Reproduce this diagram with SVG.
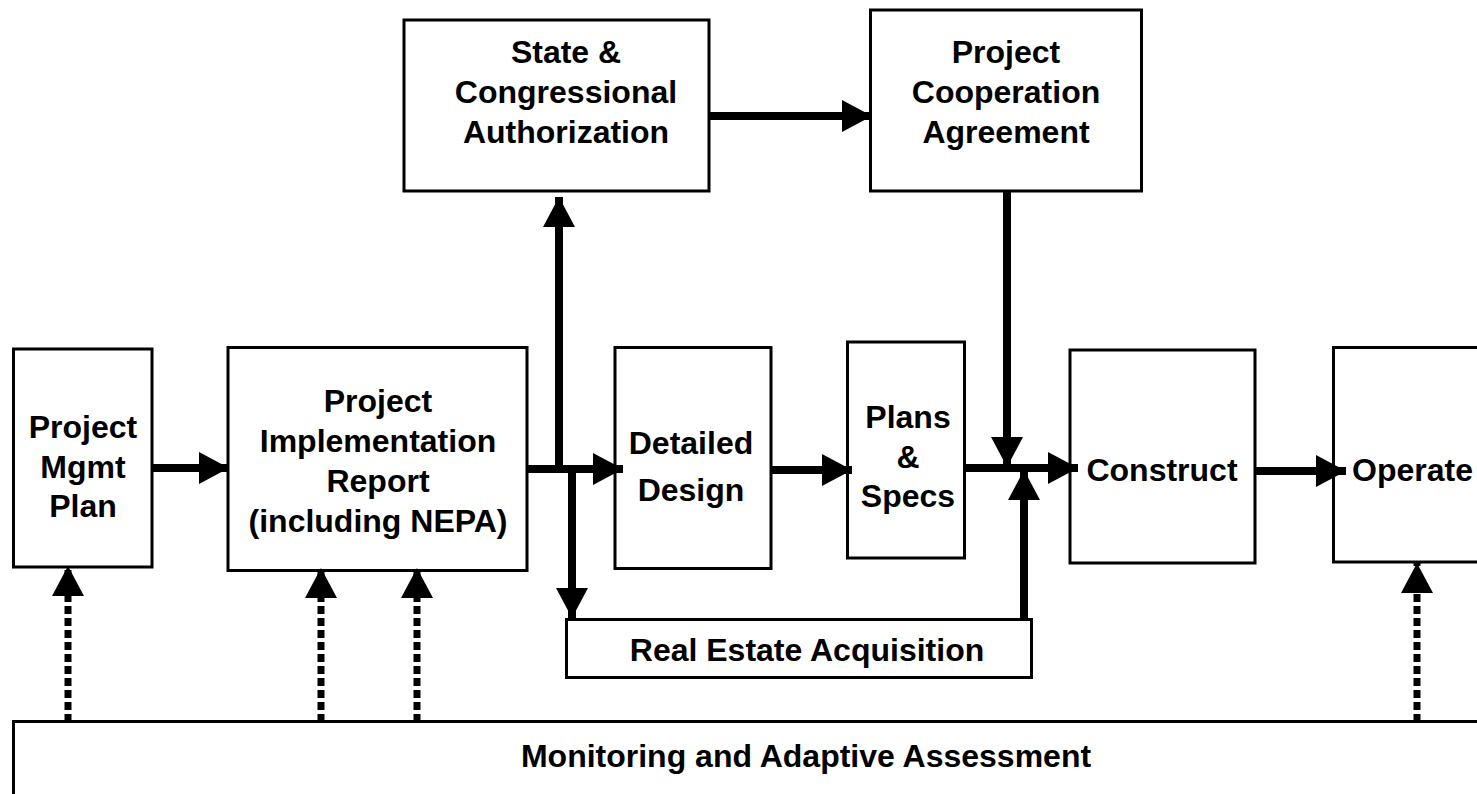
<svg xmlns="http://www.w3.org/2000/svg" width="1477" height="794" viewBox="0 0 1477 794">
<style>
.box{fill:#fff;stroke:#000;stroke-width:3}
.t{font-family:"Liberation Sans",Arial,sans-serif;font-weight:bold;font-size:32px;fill:#000;text-anchor:middle}
.c{fill:none;stroke:#000;stroke-width:8;marker-end:url(#ah)}
.d{fill:none;stroke:#000;stroke-width:7;stroke-dasharray:8 4;marker-end:url(#ah)}
</style>
<defs>
<marker id="ah" viewBox="0 0 30 32" markerWidth="30" markerHeight="32" refX="30" refY="16" orient="auto" markerUnits="userSpaceOnUse">
<path d="M0,0 L30,16 L0,32 Z" fill="#000"/>
</marker>
</defs>
<rect width="1477" height="794" fill="#fff"/>
<g id="pmp"><rect class="box" x="13.5" y="349" width="138.5" height="218"/>
<text class="t" x="83" y="438">Project</text><text class="t" x="83" y="478">Mgmt</text><text class="t" x="83" y="517">Plan</text></g>
<g id="pir"><rect class="box" x="228" y="347.5" width="299" height="223"/>
<text class="t" x="378" y="412">Project</text><text class="t" x="378" y="452">Implementation</text><text class="t" x="378" y="492">Report</text><text class="t" x="378" y="532">(including NEPA)</text></g>
<g id="state"><rect class="box" x="404" y="20" width="305" height="171"/>
<text class="t" x="566" y="63">State &amp;</text><text class="t" x="566" y="103">Congressional</text><text class="t" x="566" y="143">Authorization</text></g>
<g id="pca"><rect class="box" x="870.5" y="10" width="271" height="181"/>
<text class="t" x="1006" y="63">Project</text><text class="t" x="1006" y="103">Cooperation</text><text class="t" x="1006" y="143">Agreement</text></g>
<g id="dd"><rect class="box" x="615" y="347.5" width="156" height="221"/>
<text class="t" x="691" y="454">Detailed</text><text class="t" x="691" y="501">Design</text></g>
<g id="ps"><rect class="box" x="847.5" y="342" width="117" height="216"/>
<text class="t" x="908" y="428">Plans</text><text class="t" x="908" y="468">&amp;</text><text class="t" x="908" y="507">Specs</text></g>
<g id="construct"><rect class="box" x="1070" y="350" width="185" height="213"/>
<text class="t" x="1162" y="481">Construct</text></g>
<g id="operate"><rect class="box" x="1333.5" y="347.5" width="150" height="214.5"/>
<text class="t" x="1352" y="481" style="text-anchor:start">Operate</text></g>
<g id="rea"><rect class="box" x="566.5" y="619.5" width="465" height="58"/>
<text class="t" x="807" y="661">Real Estate Acquisition</text></g>
<g id="monitor"><rect class="box" x="13.5" y="721.5" width="1480" height="90"/>
<text class="t" x="806" y="767">Monitoring and Adaptive Assessment</text></g>
<g id="connectors">
<path class="c" d="M152,468 H229"/>
<path class="c" d="M527,469 H623"/>
<path class="c" d="M559,469 V197"/>
<path class="c" d="M572,469 V618"/>
<path class="c" d="M771,470 H852"/>
<path class="c" d="M965,468 H1078"/>
<path class="c" d="M1007,191 V467"/>
<path class="c" d="M1024,620 V470"/>
<path class="c" d="M1255,471 H1346"/>
<path class="c" d="M709,116 H872"/>
<path class="d" d="M68,722 V566"/>
<path class="d" d="M321,722 V568"/>
<path class="d" d="M417,722 V568"/>
<path class="d" d="M1417,722 V563"/>
</g>
</svg>
